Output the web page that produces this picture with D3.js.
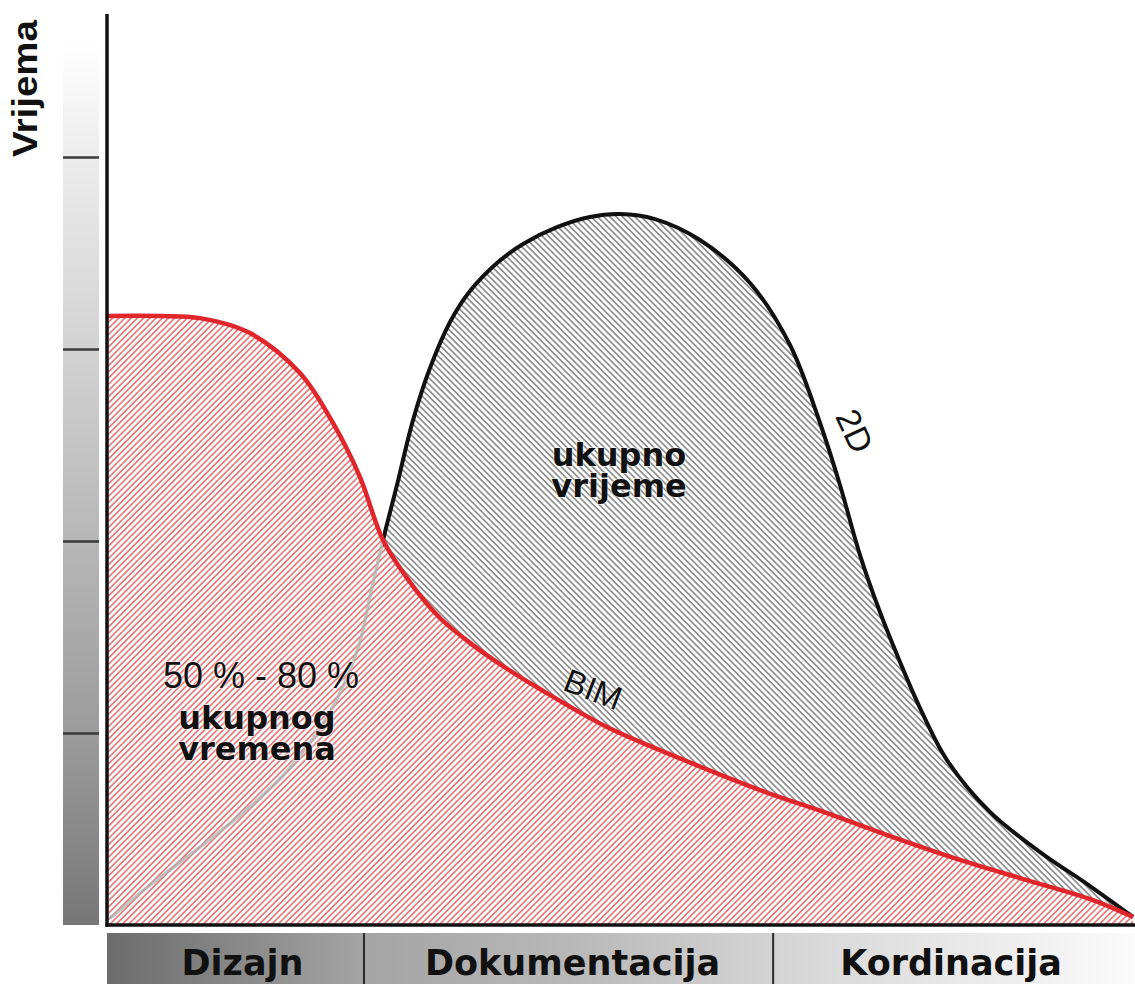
<!DOCTYPE html>
<html><head><meta charset="utf-8">
<script src="https://cdn.jsdelivr.net/npm/d3@7"></script>
<style>html,body{margin:0;padding:0;background:#fff;} svg{display:block;}</style>
</head><body>
<svg id="chart" width="1135" height="984"></svg>
<script>
// ---- data ----
const categories = ["Dizajn", "Dokumentacija", "Kordinacija"];
const categoryBreaks = [0, 25, 64.8, 100];
const yTicks = [1, 2, 3, 4];
const yLabel = "Vrijema";

const bimX = [0, 5.16, 9.05, 13.91, 18.77, 21.98, 24.61, 26.85, 29.47, 32.39, 35.60, 38.23, 42.12, 48.64, 53.79, 63.52, 70.04, 76.46, 82.98, 89.49, 95.91, 99.81];
const bimY = [3.172, 3.172, 3.161, 3.083, 2.875, 2.615, 2.333, 2.005, 1.786, 1.599, 1.458, 1.359, 1.229, 1.031, 0.911, 0.703, 0.583, 0.458, 0.339, 0.234, 0.130, 0.042];

const twoDX = [0.29, 4.18, 9.05, 13.91, 17.80, 21.69, 24.42, 25.68, 26.85, 28.21, 29.77, 31.42, 33.37, 35.31, 37.94, 40.47, 43.77, 46.98, 49.90, 53.31, 57.68, 62.55, 66.44, 69.36, 71.30, 73.25, 75.19, 77.14, 79.09, 81.71, 85.89, 90.76, 95.62, 99.81];
const twoDY = [0.036, 0.208, 0.406, 0.615, 0.818, 1.109, 1.443, 1.734, 2.005, 2.292, 2.630, 2.901, 3.141, 3.302, 3.448, 3.547, 3.635, 3.688, 3.703, 3.677, 3.568, 3.344, 3.021, 2.615, 2.292, 1.927, 1.630, 1.370, 1.130, 0.859, 0.589, 0.380, 0.203, 0.042];
const crossX = 26.85;

// ---- scales ----
const svg = d3.select("#chart");
const x = d3.scaleLinear().domain([0, 100]).range([107, 1135]);
const y = d3.scaleLinear().domain([0, 4.74]).range([925, 15]);

const bim = bimX.map((d, i) => ({x: d, y: bimY[i]}));
const twoD = twoDX.map((d, i) => ({x: d, y: twoDY[i]}));

const defs = svg.append("defs");

// hatch patterns
function hatch(id, color, angle) {
  const p = defs.append("pattern").attr("id", id).attr("patternUnits", "userSpaceOnUse")
    .attr("width", 4.4).attr("height", 4.4).attr("patternTransform", `rotate(${angle})`);
  p.append("rect").attr("width", 4.4).attr("height", 4.4).attr("fill", "#fff");
  p.append("rect").attr("x", 0).attr("width", 1.7).attr("height", 4.4).attr("fill", color);
}
hatch("redHatch", "#e47b7b", 45);
hatch("greyHatch", "#8e8e8e", -45);

// gradients
const gv = defs.append("linearGradient").attr("id", "gradV").attr("x1", 0).attr("y1", 0).attr("x2", 0).attr("y2", 1);
[[0, "#ffffff"], [0.13, "#ececec"], [0.35, "#d2d2d2"], [0.57, "#b6b6b6"], [0.78, "#9c9c9c"], [1, "#777777"]]
  .forEach(s => gv.append("stop").attr("offset", s[0]).attr("stop-color", s[1]));
const gh = defs.append("linearGradient").attr("id", "gradH").attr("x1", 0).attr("y1", 0).attr("x2", 1).attr("y2", 0);
[[0, "#6c6c6c"], [0.25, "#a4a4a4"], [0.45, "#b8b8b8"], [0.65, "#d4d4d4"], [1, "#fbfbfb"]]
  .forEach(s => gh.append("stop").attr("offset", s[0]).attr("stop-color", s[1]));

defs.append("clipPath").attr("id", "clipLeft").append("rect")
  .attr("x", 0).attr("y", 0).attr("width", x(crossX)).attr("height", 984);
defs.append("clipPath").attr("id", "clipRight").append("rect")
  .attr("x", x(crossX)).attr("y", 0).attr("width", 1135 - x(crossX)).attr("height", 984);

// left gradient bar + ticks
svg.append("rect").attr("x", 63).attr("y", y(4.6)).attr("width", 36).attr("height", y(0) - y(4.6))
  .attr("fill", "url(#gradV)");
const yAxis = d3.axisLeft(y).tickValues(yTicks).tickSizeInner(36).tickSizeOuter(0).tickFormat("");
const ya = svg.append("g").attr("transform", "translate(99,0)").call(yAxis);
ya.select(".domain").remove();
ya.selectAll(".tick line").attr("stroke", "#3a3a3a").attr("stroke-width", 2.5);

// y label
svg.append("text").attr("transform", `translate(37,88.5) rotate(-90)`)
  .attr("text-anchor", "middle").attr("font-family", "Liberation Sans, Arial, sans-serif")
  .attr("font-weight", "bold").attr("font-size", 35).attr("textLength", 137).attr("lengthAdjust", "spacingAndGlyphs")
  .attr("fill", "#111").text(yLabel);

// curves
const curve = d3.curveCatmullRom.alpha(0.5);
const area = d3.area().x(d => x(d.x)).y0(y(0)).y1(d => y(d.y)).curve(curve);
const line = d3.line().x(d => x(d.x)).y(d => y(d.y)).curve(curve);

svg.append("path").datum(twoD).attr("d", area).attr("fill", "url(#greyHatch)");
svg.append("path").datum(bim).attr("d", area).attr("fill", "url(#redHatch)");

svg.append("path").datum(twoD).attr("d", line).attr("clip-path", "url(#clipLeft)")
  .attr("fill", "none").attr("stroke", "#b0b0b0").attr("stroke-opacity", 0.75).attr("stroke-width", 3.5);
svg.append("path").datum(twoD).attr("d", line).attr("clip-path", "url(#clipRight)")
  .attr("fill", "none").attr("stroke", "#111").attr("stroke-width", 4);
svg.append("path").datum(bim).attr("d", line)
  .attr("fill", "none").attr("stroke", "#e0262b").attr("stroke-width", 4.5);

// axes lines
svg.append("line").attr("x1", x(0)).attr("x2", x(0)).attr("y1", 14).attr("y2", y(0) + 2)
  .attr("stroke", "#111").attr("stroke-width", 3.5);
svg.append("line").attr("x1", x(0) - 1.5).attr("x2", 1135).attr("y1", y(0)).attr("y2", y(0))
  .attr("stroke", "#111").attr("stroke-width", 3.5);

// bottom category band
svg.append("rect").attr("x", x(0)).attr("y", 933).attr("width", x(100) - x(0)).attr("height", 51)
  .attr("fill", "url(#gradH)");
svg.selectAll(".divider").data(categoryBreaks.slice(1, -1)).enter().append("line")
  .attr("x1", d => x(d)).attr("x2", d => x(d)).attr("y1", 933).attr("y2", 984)
  .attr("stroke", "#2a2a2a").attr("stroke-width", 2);
svg.selectAll(".cat").data(categories).enter().append("text")
  .attr("x", (d, i) => (x(categoryBreaks[i]) + x(categoryBreaks[i + 1])) / 2 + [7, 4, -3][i])
  .attr("y", 975).attr("text-anchor", "middle")
  .attr("font-family", "DejaVu Sans, Verdana, sans-serif").attr("font-weight", "bold")
  .attr("font-size", 35).attr("fill", "#111").text(d => d);

// annotations
const bold = "DejaVu Sans, Verdana, sans-serif";
const reg = "Liberation Sans, Arial, sans-serif";
function txt(tx, ty, s, fam, size, weight, rot) {
  svg.append("text").attr("transform", `translate(${tx},${ty}) rotate(${rot || 0})`)
    .attr("text-anchor", "middle").attr("font-family", fam).attr("font-size", size)
    .attr("font-weight", weight).attr("fill", "#111")
    .attr("stroke", "#fff").attr("stroke-width", 2).attr("stroke-opacity", 0.5).attr("paint-order", "stroke")
    .text(s);
}
txt(619, 466, "ukupno", bold, 32, "bold");
txt(619, 497, "vrijeme", bold, 32, "bold");
txt(261, 688, "50 % - 80 %", reg, 36, "normal");
txt(257, 729, "ukupnog", bold, 32, "bold");
txt(257, 760, "vremena", bold, 32, "bold");
txt(589, 700, "BIM", reg, 33, "normal", 21);
txt(844, 436, "2D", reg, 34, "normal", 65);
</script>
</body></html>
